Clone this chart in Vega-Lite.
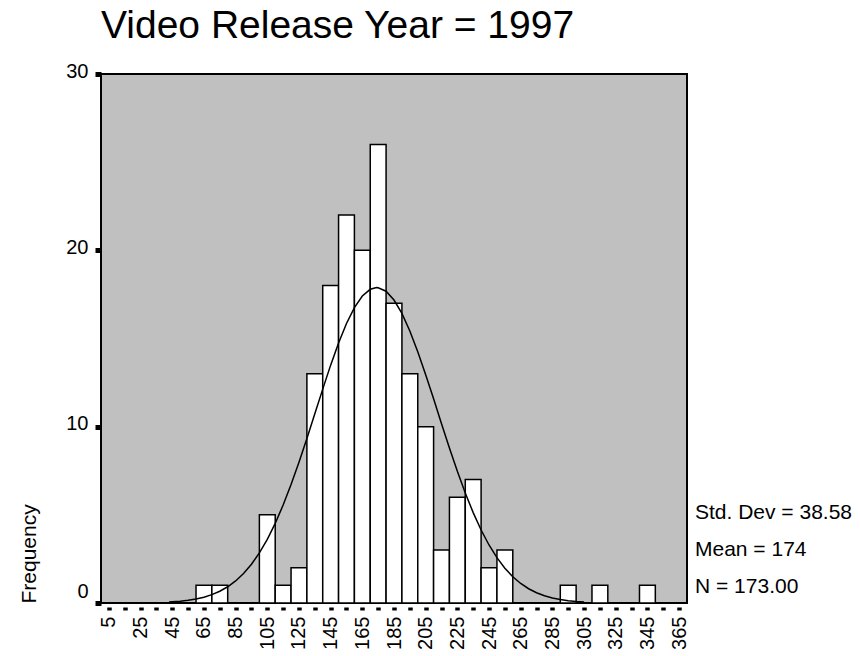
{
  "$schema": "https://vega.github.io/schema/vega-lite/v6.json",
  "autosize": {"type": "none"},
  "width": 586,
  "height": 529,
  "padding": {"left": 101, "top": 74, "right": 173, "bottom": 53},
  "background": "white",
  "title": {
    "text": "Video Release Year = 1997",
    "anchor": "start",
    "frame": "group",
    "font": "Liberation Sans",
    "fontSize": 39,
    "fontWeight": "normal",
    "color": "black",
    "baseline": "alphabetic",
    "offset": -16
  },
  "config": {
    "view": {"fill": "#c0c0c0", "stroke": "black", "strokeWidth": 2},
    "font": "Liberation Sans"
  },
  "layer": [
    {
      "data": {"values": [
        {"bin_start": 60, "bin_end": 70, "count": 1},
        {"bin_start": 70, "bin_end": 80, "count": 1},
        {"bin_start": 100, "bin_end": 110, "count": 5},
        {"bin_start": 110, "bin_end": 120, "count": 1},
        {"bin_start": 120, "bin_end": 130, "count": 2},
        {"bin_start": 130, "bin_end": 140, "count": 13},
        {"bin_start": 140, "bin_end": 150, "count": 18},
        {"bin_start": 150, "bin_end": 160, "count": 22},
        {"bin_start": 160, "bin_end": 170, "count": 20},
        {"bin_start": 170, "bin_end": 180, "count": 26},
        {"bin_start": 180, "bin_end": 190, "count": 17},
        {"bin_start": 190, "bin_end": 200, "count": 13},
        {"bin_start": 200, "bin_end": 210, "count": 10},
        {"bin_start": 210, "bin_end": 220, "count": 3},
        {"bin_start": 220, "bin_end": 230, "count": 6},
        {"bin_start": 230, "bin_end": 240, "count": 7},
        {"bin_start": 240, "bin_end": 250, "count": 2},
        {"bin_start": 250, "bin_end": 260, "count": 3},
        {"bin_start": 290, "bin_end": 300, "count": 1},
        {"bin_start": 310, "bin_end": 320, "count": 1},
        {"bin_start": 340, "bin_end": 350, "count": 1}
      ]},
      "mark": {"type": "bar", "fill": "white", "stroke": "black", "strokeWidth": 1.5},
      "encoding": {
        "x": {
          "field": "bin_start", "type": "quantitative",
          "scale": {"domain": [0, 370], "nice": false, "zero": false},
          "axis": {
            "values": [5, 15, 25, 35, 45, 55, 65, 75, 85, 95, 105, 115, 125, 135, 145, 155, 165, 175, 185, 195, 205, 215, 225, 235, 245, 255, 265, 275, 285, 295, 305, 315, 325, 335, 345, 355, 365],
            "tickCount": 100,
            "format": "d",
            "labelExpr": "(datum.value - 5) % 20 == 0 ? datum.label : ''",
            "labelAngle": 270,
            "labelFontSize": 20,
            "labelColor": "black",
            "labelPadding": 6,
            "labelFlush": false,
            "labelOverlap": false,
            "tickSize": 3,
            "tickWidth": 4.5,
            "tickColor": "black",
            "domain": false,
            "grid": false,
            "offset": 4,
            "title": null
          }
        },
        "x2": {"field": "bin_end"},
        "y": {
          "field": "count", "type": "quantitative",
          "scale": {"domain": [0, 30], "nice": false},
          "axis": {
            "values": [0, 10, 20, 30],
            "tickCount": 100,
            "format": "d",
            "labelFontSize": 20,
            "labelColor": "black",
            "labelPadding": 7,
            "labelOffset": {"condition": {"test": "datum.value == 0", "value": -12}, "value": -3},
            "tickSize": 6,
            "tickWidth": 5,
            "tickColor": "black",
            "domain": false,
            "grid": false,
            "title": "Frequency",
            "titleFontSize": 21,
            "titleFontWeight": "normal",
            "titleColor": "black",
            "titleAngle": 270,
            "titleAlign": "left",
            "titleBaseline": "alphabetic",
            "titleX": -66,
            "titleY": 529
          }
        },
        "y2": {"datum": 0}
      }
    },
    {
      "data": {"values": [
        {"v": 43, "f": 0.055}, {"v": 45, "f": 0.067}, {"v": 50, "f": 0.102}, {"v": 55, "f": 0.154},
        {"v": 60, "f": 0.227}, {"v": 65, "f": 0.331}, {"v": 70, "f": 0.473}, {"v": 75, "f": 0.665},
        {"v": 80, "f": 0.920}, {"v": 85, "f": 1.250}, {"v": 90, "f": 1.671}, {"v": 95, "f": 2.197},
        {"v": 100, "f": 2.841}, {"v": 105, "f": 3.612}, {"v": 110, "f": 4.519}, {"v": 115, "f": 5.555},
        {"v": 120, "f": 6.718}, {"v": 125, "f": 7.986}, {"v": 130, "f": 9.335}, {"v": 135, "f": 10.73},
        {"v": 140, "f": 12.13}, {"v": 145, "f": 13.49}, {"v": 150, "f": 14.74}, {"v": 155, "f": 15.85},
        {"v": 160, "f": 16.75}, {"v": 165, "f": 17.41}, {"v": 170, "f": 17.79}, {"v": 174, "f": 17.89},
        {"v": 175, "f": 17.88}, {"v": 180, "f": 17.68}, {"v": 185, "f": 17.18}, {"v": 190, "f": 16.42},
        {"v": 195, "f": 15.43}, {"v": 200, "f": 14.25}, {"v": 205, "f": 12.95}, {"v": 210, "f": 11.58},
        {"v": 215, "f": 10.17}, {"v": 220, "f": 8.788}, {"v": 225, "f": 7.467}, {"v": 230, "f": 6.238},
        {"v": 235, "f": 5.126}, {"v": 240, "f": 4.141}, {"v": 245, "f": 3.290}, {"v": 250, "f": 2.571},
        {"v": 255, "f": 1.975}, {"v": 260, "f": 1.491}, {"v": 265, "f": 1.108}, {"v": 270, "f": 0.809},
        {"v": 275, "f": 0.581}, {"v": 280, "f": 0.411}, {"v": 285, "f": 0.285}, {"v": 290, "f": 0.195},
        {"v": 295, "f": 0.131}, {"v": 300, "f": 0.086}, {"v": 305, "f": 0.056}
      ]},
      "mark": {"type": "line", "color": "black", "strokeWidth": 1.5},
      "encoding": {
        "x": {"field": "v", "type": "quantitative"},
        "y": {"field": "f", "type": "quantitative"}
      }
    },
    {
      "data": {"values": [
        {"label": "Std. Dev = 38.58", "pos": 4.76},
        {"label": "Mean = 174", "pos": 2.67},
        {"label": "N = 173.00", "pos": 0.57}
      ]},
      "mark": {"type": "text", "align": "left", "baseline": "alphabetic", "dx": 8, "fontSize": 21, "color": "black"},
      "encoding": {
        "x": {"datum": 370, "type": "quantitative"},
        "y": {"field": "pos", "type": "quantitative"},
        "text": {"field": "label"}
      }
    }
  ]
}
